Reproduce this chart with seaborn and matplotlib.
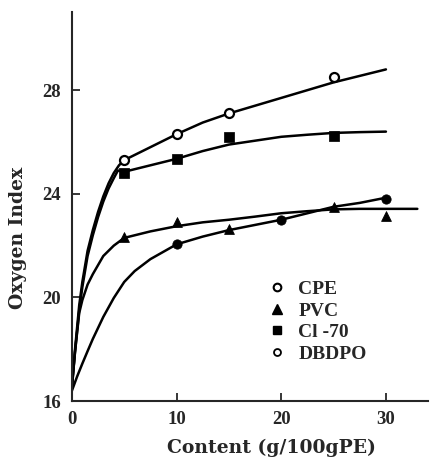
import matplotlib
matplotlib.use("Agg")
import matplotlib.pyplot as plt
from matplotlib.lines import Line2D
import seaborn as sns

# measured points
cpe_x = [5, 10, 15, 25]
cpe_y = [25.3, 26.3, 27.1, 28.5]
pvc_x = [5, 10, 15, 25, 30]
pvc_y = [22.35, 22.9, 22.65, 23.5, 23.15]
cl70_x = [5, 10, 15, 25]
cl70_y = [24.8, 25.35, 26.2, 26.25]
dbdpo_x = [10, 20, 30]
dbdpo_y = [22.05, 23.0, 23.8]

# hand-drawn smooth curves
cpe_cx = [0, 0.3, 0.7, 1, 1.5, 2, 2.5, 3, 3.5, 4, 4.5, 5, 7.5, 10, 12.5, 15, 17.5, 20, 22.5, 25, 27.5, 30]
cpe_cy = [16.5, 18.0, 19.7, 20.6, 21.8, 22.6, 23.3, 23.9, 24.4, 24.8, 25.1, 25.3, 25.8, 26.3, 26.75, 27.1, 27.4, 27.7, 28.0, 28.3, 28.55, 28.8]
cl70_cx = [0, 0.3, 0.7, 1, 1.5, 2, 2.5, 3, 3.5, 4, 4.4, 5, 7.5, 10, 12.5, 15, 17.5, 20, 22.5, 25, 27.5, 30]
cl70_cy = [16.5, 17.9, 19.5, 20.4, 21.6, 22.4, 23.1, 23.7, 24.2, 24.6, 24.9, 24.85, 25.1, 25.35, 25.65, 25.9, 26.05, 26.2, 26.28, 26.35, 26.38, 26.4]
pvc_cx = [0, 0.3, 0.7, 1, 1.5, 2, 3, 4, 5, 7.5, 10, 12.5, 15, 17.5, 20, 22.5, 25, 27.5, 30, 33]
pvc_cy = [16.6, 17.9, 19.4, 19.9, 20.5, 20.9, 21.6, 22.0, 22.3, 22.55, 22.75, 22.9, 23.0, 23.12, 23.25, 23.33, 23.4, 23.42, 23.42, 23.42]
dbdpo_cx = [0, 0.5, 1, 1.5, 2, 3, 4, 5, 6, 7.5, 10, 12.5, 15, 17.5, 20, 22.5, 25, 27.5, 30]
dbdpo_cy = [16.4, 16.95, 17.45, 17.93, 18.4, 19.25, 19.98, 20.6, 21.02, 21.48, 22.05, 22.35, 22.6, 22.8, 23.0, 23.25, 23.5, 23.65, 23.85]

x_ticks = [0, 10, 20, 30]
y_ticks = [16, 20, 24, 28]
labels = ["CPE", "PVC", "Cl -70", "DBDPO"]

sns.set_style("ticks")
plt.rcParams["font.family"] = ["Liberation Serif", "DejaVu Serif"]
plt.rcParams["font.weight"] = "bold"

fig = plt.figure(figsize=(4.33, 4.59), dpi=100)
ax = fig.add_axes([0.166, 0.126, 0.822, 0.847])

curves = [(cpe_cx, cpe_cy), (cl70_cx, cl70_cy), (pvc_cx, pvc_cy), (dbdpo_cx, dbdpo_cy)]
for cx, cy in curves:
    sns.lineplot(x=cx, y=cy, ax=ax, color="black", lw=1.8, sort=False, estimator=None)

sns.scatterplot(x=cpe_x, y=cpe_y, ax=ax, marker="o", s=42, facecolor="white",
                edgecolor="black", linewidth=1.6, zorder=3)
sns.scatterplot(x=pvc_x, y=pvc_y, ax=ax, marker="^", s=50, color="black",
                edgecolor="black", zorder=3)
sns.scatterplot(x=cl70_x, y=cl70_y, ax=ax, marker="s", s=42, color="black",
                edgecolor="black", zorder=3)
sns.scatterplot(x=dbdpo_x, y=dbdpo_y, ax=ax, marker="o", s=45, color="black",
                edgecolor="black", zorder=3)

ax.set_xlim(0, 34)
ax.set_ylim(16, 31)
ax.set_xticks(x_ticks)
ax.set_yticks(y_ticks)
ax.tick_params(direction="in", length=6, width=1.3, labelsize=13.5)
ax.tick_params(axis="x", pad=7)
ax.tick_params(axis="y", pad=8)
sns.despine(ax=ax)
for sp in ["left", "bottom"]:
    ax.spines[sp].set_linewidth(1.5)

lab_font = {"family": "DejaVu Serif", "size": 13.5, "weight": "bold"}
ax.set_xlabel("Content (g/100gPE)", fontdict=lab_font, va="center")
ax.set_ylabel("Oxygen Index", fontdict=lab_font, va="center")
ax.xaxis.set_label_coords(0.56, -0.121)
ax.yaxis.set_label_coords(-0.15, 0.42)

handles = [
    Line2D([], [], ls="", marker="o", ms=5.5, mfc="white", mec="black", mew=1.5),
    Line2D([], [], ls="", marker="^", ms=7, color="black"),
    Line2D([], [], ls="", marker="s", ms=6, color="black"),
    Line2D([], [], ls="", marker="o", ms=5, mfc="white", mec="black", mew=1.3),
]
ax.legend(handles, labels, loc="upper left", bbox_to_anchor=(0.5, 0.355), frameon=False,
          fontsize=14, labelspacing=0.2, handletextpad=0.6, handlelength=1.0)

fig.savefig("out.png", dpi=100)
